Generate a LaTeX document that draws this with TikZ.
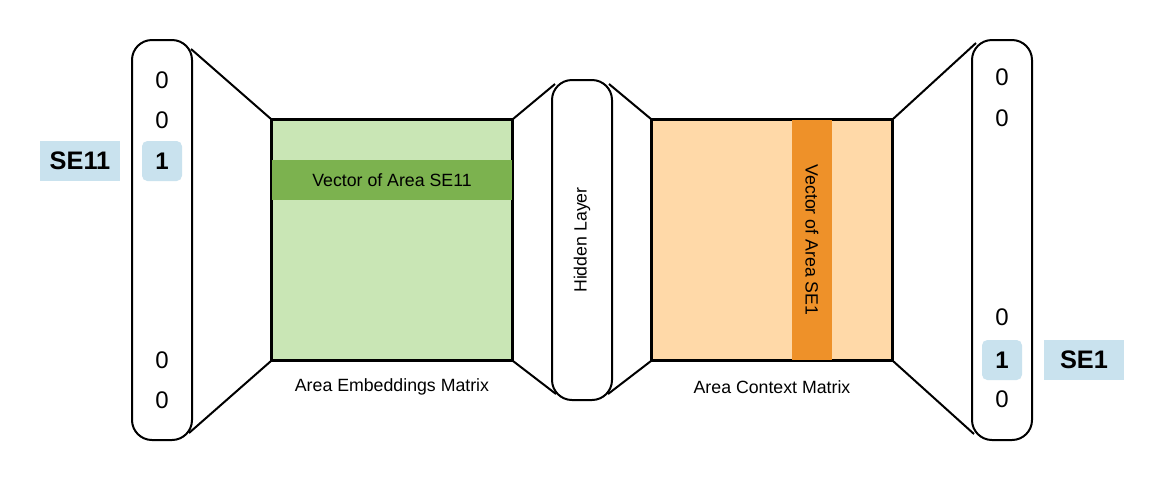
\documentclass[tikz,border=0pt]{standalone}
\usepackage{fontspec}
\setmainfont{Liberation Sans}
\usetikzlibrary{calc}

\definecolor{matgreen}{HTML}{C9E6B5}
\definecolor{bandgreen}{HTML}{7CB24F}
\definecolor{matorange}{HTML}{FFD9A8}
\definecolor{bandorange}{HTML}{EE9129}
\definecolor{tagblue}{HTML}{C9E2EE}

\begin{document}
\begin{tikzpicture}[x=0.75pt,y=-0.75pt,
  pill/.style={draw=black, line width=1.5pt, fill=white, rounded corners=15pt, minimum width=45pt, inner sep=0pt},
  matbox/.style={draw=black, line width=1.5pt, minimum width=180pt, minimum height=180pt, inner sep=0pt},
  digit/.style={font=\fontsize{18}{18}\selectfont},
  onehot/.style={fill=tagblue, rounded corners=4pt, minimum width=30pt, minimum height=30pt, inner sep=0pt, font=\fontsize{18}{18}\selectfont\bfseries},
  tag/.style={fill=tagblue, minimum width=60pt, minimum height=30pt, inner sep=0pt, font=\fontsize{19}{19}\selectfont\bfseries},
  caption/.style={font=\fontsize{13.3}{13.3}\selectfont},
  link/.style={line width=1.5pt}]
\useasboundingbox (0,0) rectangle (1164,480);

% input one-hot vector
\node[pill, minimum height=300pt] (inp) at (162,240) {};
\node[digit] (in1) at (162,80) {0};
\node[digit] (in2) at (162,120) {0};
\node[onehot] (inhot) at (162,161) {1};
\node[digit] (in4) at (162,360) {0};
\node[digit] (in5) at (162,400) {0};
\node[tag] (intag) at (80,161) {SE11};

% embedding matrix
\node[matbox, fill=matgreen] (embed) at (392,240) {};
\node[fill=bandgreen, minimum width=180pt, minimum height=30pt, inner sep=0pt, caption] (embrow) at (392,180) {Vector of Area SE11};
\draw[line width=1.5pt] (embed.north west) rectangle (embed.south east);
\node[caption] (embcap) at (392,387) {Area Embeddings Matrix};

% hidden layer
\node[pill, minimum height=240pt] (hid) at (582,240) {};
\node[caption, rotate=90] (hidtext) at (582,240) {Hidden Layer};

% context matrix
\node[matbox, fill=matorange] (ctx) at (772,240) {};
\node[fill=bandorange, minimum width=30pt, minimum height=180pt, inner sep=0pt] (ctxcol) at (812,240) {};
\node[caption, rotate=-90] (ctxtext) at (812,240) {Vector of Area SE1};
\draw[line width=1.5pt] (ctx.north west) rectangle (ctx.south east);
\node[caption] (ctxcap) at (772,387) {Area Context Matrix};

% output one-hot vector
\node[pill, minimum height=300pt] (out) at (1002,240) {};
\node[digit] (out1) at (1002,77) {0};
\node[digit] (out2) at (1002,118) {0};
\node[digit] (out3) at (1002,317) {0};
\node[onehot] (outhot) at (1002,360) {1};
\node[digit] (out5) at (1002,399) {0};
\node[tag] (outtag) at (1084,360) {SE1};

% connectors
\draw[link] ($(inp.north east)+(-2,10)$) -- (embed.north west);
\draw[link] ($(inp.south east)+(-4,-8)$) -- (embed.south west);
\draw[link] (embed.north east) -- ($(hid.north west)+(4,5)$);
\draw[link] (embed.south east) -- ($(hid.south west)+(5,-7)$);
\draw[link] ($(hid.north east)+(-4,5)$) -- (ctx.north west);
\draw[link] ($(hid.south east)+(-5,-7)$) -- (ctx.south west);
\draw[link] (ctx.north east) -- ($(out.north west)+(5,4)$);
\draw[link] (ctx.south east) -- ($(out.south west)+(3,-7)$);
\end{tikzpicture}
\end{document}
